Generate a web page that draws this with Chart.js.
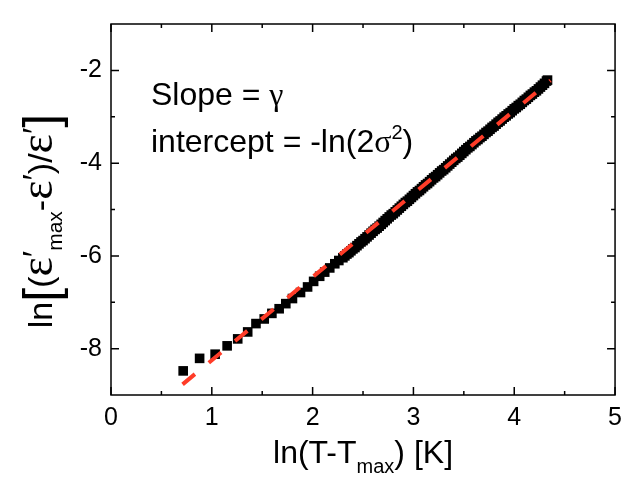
<!DOCTYPE html>
<html>
<head>
<meta charset="utf-8">
<script src="https://cdn.jsdelivr.net/npm/chart.js@4"></script>
<style>
  html, body { margin: 0; padding: 0; background: #fff; }
  #wrap { width: 630px; height: 478px; }
</style>
</head>
<body>
<div id="wrap"><canvas id="lnChart" width="630" height="478"></canvas></div>
<script>
// measured points: ln(T-Tmax) vs ln[(e'max-e')/e']
const lnT = [0.716, 0.879, 1.033, 1.152, 1.257, 1.356, 1.438, 1.52, 1.596, 1.668, 1.734,
  1.80, 1.88, 1.95, 2.01, 2.07, 2.12, 2.17, 2.22, 2.26,
  2.30, 2.32, 2.34, 2.36, 2.38, 2.40, 2.42, 2.44, 2.46, 2.48,
  2.50, 2.52, 2.54, 2.56, 2.58, 2.60, 2.62, 2.64, 2.66, 2.68,
  2.70, 2.72, 2.74, 2.76, 2.78, 2.80, 2.82, 2.84, 2.86, 2.88,
  2.90, 2.92, 2.94, 2.96, 2.98, 3.00, 3.02, 3.04, 3.06, 3.08,
  3.10, 3.12, 3.14, 3.16, 3.18, 3.20, 3.22, 3.24, 3.26, 3.28,
  3.30, 3.32, 3.34, 3.36, 3.38, 3.40, 3.42, 3.44, 3.46, 3.48,
  3.50, 3.52, 3.54, 3.56, 3.58, 3.60, 3.62, 3.64, 3.66, 3.68,
  3.70, 3.72, 3.74, 3.76, 3.78, 3.80, 3.82, 3.84, 3.86, 3.88,
  3.90, 3.92, 3.94, 3.96, 3.98, 4.00, 4.02, 4.04, 4.06, 4.08,
  4.10, 4.12, 4.14, 4.16, 4.18, 4.20, 4.22, 4.24, 4.26, 4.28,
  4.30, 4.32, 4.33];
const lnEps = [-8.48, -8.21, -8.12, -7.94, -7.79, -7.64, -7.46, -7.36, -7.24, -7.14, -7.03,
  -6.92, -6.79, -6.67, -6.55, -6.44, -6.35, -6.26, -6.17, -6.10,
  -6.04, -6.00, -5.96, -5.93, -5.89, -5.85, -5.82, -5.78, -5.74, -5.70,
  -5.67, -5.63, -5.59, -5.55, -5.51, -5.47, -5.43, -5.40, -5.36, -5.32,
  -5.28, -5.24, -5.20, -5.16, -5.12, -5.09, -5.05, -5.01, -4.97, -4.93,
  -4.89, -4.85, -4.82, -4.78, -4.74, -4.70, -4.66, -4.62, -4.59, -4.55,
  -4.51, -4.47, -4.44, -4.40, -4.36, -4.32, -4.29, -4.25, -4.21, -4.17,
  -4.14, -4.10, -4.06, -4.02, -3.98, -3.94, -3.90, -3.87, -3.83, -3.79,
  -3.75, -3.71, -3.67, -3.64, -3.60, -3.56, -3.52, -3.49, -3.45, -3.42,
  -3.38, -3.34, -3.31, -3.27, -3.23, -3.20, -3.16, -3.12, -3.09, -3.05,
  -3.01, -2.98, -2.94, -2.91, -2.87, -2.83, -2.80, -2.76, -2.73, -2.69,
  -2.65, -2.62, -2.58, -2.54, -2.51, -2.47, -2.44, -2.40, -2.36, -2.32,
  -2.28, -2.23, -2.21];

// linear fit (red dashed line)
const fitX = [0.71, 4.36];
const fitY = [-8.77, -2.22];

const xTicks = [0, 1, 2, 3, 4, 5];
const xMinor = [0.5, 1.5, 2.5, 3.5, 4.5];
const yTicks = [-8, -6, -4, -2];
const yMinor = [-7, -5, -3];

const SANS = '"Liberation Sans", Arial, sans-serif';
const SERIF = '"Liberation Serif", "Times New Roman", serif';

function f(size, fam) { return size + 'px ' + (fam || SANS); }

// text pieces: [text, font, vertical shift]
const xTitle = [
  ['ln(T-T', f(32), 0], ['max', f(20), 10], [') [K]', f(32), 0]
];
const yTitle = [
  ['ln', f(34), 0], ['[', f(50), 6], ['(', f(34), 0], ['\u03b5', f(46, SERIF), 0], ['\u2032', f(34), -6],
  ['max', f(21), 10], ['-', f(34), 0], ['\u03b5', f(46, SERIF), 0], ['\u2032', f(34), -6],
  [')/', f(34), 0], ['\u03b5', f(46, SERIF), 0], ['\u2032', f(34), -6], [']', f(50), 6]
];
const note1 = [['Slope = ', f(32), 0], ['\u03b3', f(32, SERIF), 0]];
const note2 = [['intercept = -ln(2', f(32), 0], ['\u03c3', f(32, SERIF), 0], ['2', f(20), -13], [')', f(32), 0]];

function richWidth(ctx, parts) {
  let w = 0;
  parts.forEach(p => { ctx.font = p[1]; w += ctx.measureText(p[0]).width; });
  return w;
}
function drawRich(ctx, parts, x, y) {
  parts.forEach(p => {
    ctx.font = p[1];
    ctx.fillText(p[0], x, y + p[2]);
    x += ctx.measureText(p[0]).width;
  });
}

const decor = {
  id: 'decor',
  afterDraw(chart) {
    const { ctx, chartArea: a } = chart;
    const sx = chart.scales.x, sy = chart.scales.y;
    ctx.save();
    ctx.strokeStyle = '#000';
    ctx.lineWidth = 1.5;
    ctx.strokeRect(a.left, a.top, a.right - a.left, a.bottom - a.top);
    ctx.beginPath();
    const tx = (v, len) => {
      const px = sx.getPixelForValue(v);
      ctx.moveTo(px, a.bottom); ctx.lineTo(px, a.bottom - len);
      ctx.moveTo(px, a.top); ctx.lineTo(px, a.top + len);
    };
    const ty = (v, len) => {
      const py = sy.getPixelForValue(v);
      ctx.moveTo(a.left, py); ctx.lineTo(a.left + len, py);
      ctx.moveTo(a.right, py); ctx.lineTo(a.right - len, py);
    };
    xTicks.forEach(v => tx(v, 8));
    xMinor.forEach(v => tx(v, 4));
    yTicks.forEach(v => ty(v, 8));
    yMinor.forEach(v => ty(v, 4));
    ctx.stroke();

    ctx.fillStyle = '#000';
    ctx.textBaseline = 'alphabetic';
    ctx.textAlign = 'left';
    // x axis title
    const cx = (a.left + a.right) / 2;
    drawRich(ctx, xTitle, cx - richWidth(ctx, xTitle) / 2, 463);
    // y axis title, rotated
    ctx.save();
    ctx.translate(52, 221);
    ctx.rotate(-Math.PI / 2);
    drawRich(ctx, yTitle, -richWidth(ctx, yTitle) / 2, 0);
    ctx.restore();
    // annotation
    drawRich(ctx, note1, 151, 105);
    drawRich(ctx, note2, 151, 152);
    ctx.restore();
  }
};

new Chart(document.getElementById('lnChart'), {
  type: 'scatter',
  data: {
    datasets: [
      {
        label: 'fit',
        data: fitX.map((x, i) => ({ x: x, y: fitY[i] })),
        showLine: true,
        borderColor: '#ff3c28',
        borderWidth: 4,
        borderDash: [16, 18],
        pointRadius: 0,
        order: 0
      },
      {
        label: 'data',
        data: lnT.map((x, i) => ({ x: x, y: lnEps[i] })),
        pointStyle: 'rect',
        pointRadius: 6.8,
        pointBorderWidth: 0,
        backgroundColor: '#000',
        borderColor: '#000',
        order: 1
      }
    ]
  },
  options: {
    responsive: false,
    animation: false,
    events: [],
    layout: { padding: { left: 0, top: 8, right: 12, bottom: 0 } },
    plugins: { legend: { display: false }, tooltip: { enabled: false } },
    scales: {
      x: {
        type: 'linear', min: 0, max: 5,
        afterBuildTicks: s => { s.ticks = xTicks.map(v => ({ value: v })); },
        afterFit: s => { s.height = 83; },
        grid: { drawOnChartArea: false, drawTicks: false },
        border: { display: false },
        ticks: { color: '#000', padding: 8, font: { family: SANS, size: 25 } }
      },
      y: {
        type: 'linear', min: -9, max: -1,
        afterBuildTicks: s => { s.ticks = yTicks.map(v => ({ value: v })); },
        afterFit: s => { s.width = 111; },
        grid: { drawOnChartArea: false, drawTicks: false },
        border: { display: false },
        ticks: { color: '#000', padding: 9, font: { family: SANS, size: 25 } }
      }
    }
  },
  plugins: [decor]
});
</script>
</body>
</html>
